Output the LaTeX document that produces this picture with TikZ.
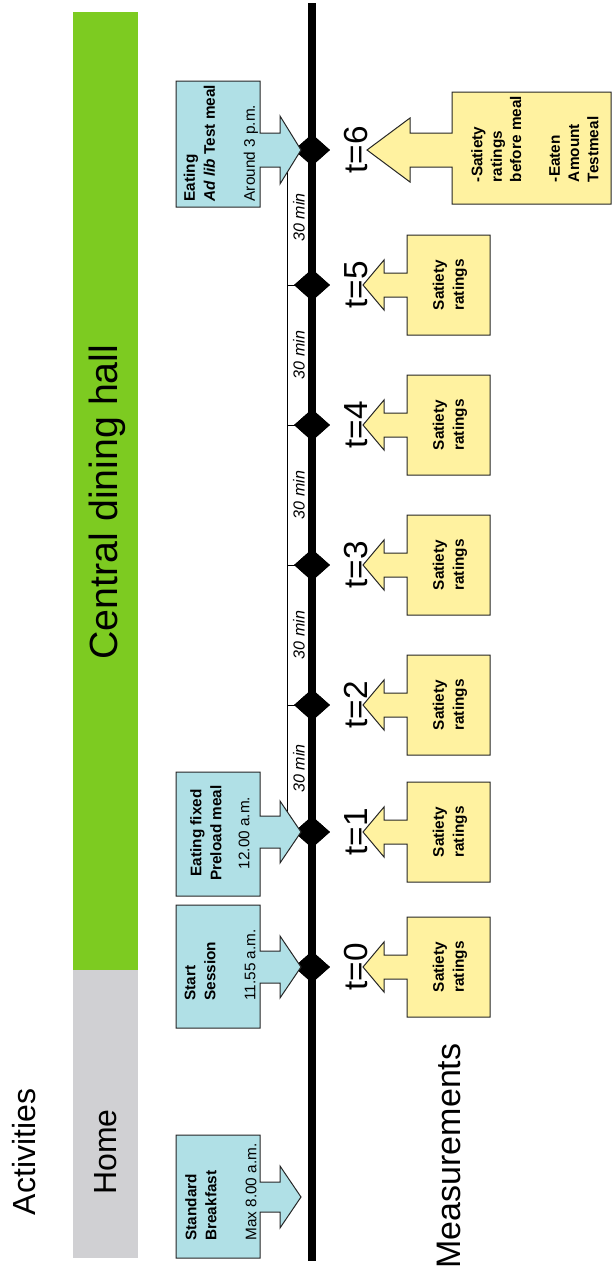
\documentclass[tikz,border=0pt]{standalone}
\usepackage{fontspec}
\setmainfont{Liberation Sans}
\usetikzlibrary{shapes.geometric,calc}
\definecolor{vert}{HTML}{7DCB21}
\definecolor{gris}{HTML}{D0D0D3}
\definecolor{ciel}{HTML}{B0E0E6}
\definecolor{jaune}{HTML}{FFF2A0}

\begin{document}
\begin{tikzpicture}[x=0.75pt,y=-0.75pt,
  bluebox/.style={draw=black!85,fill=ciel,line width=0.75pt},
  yellowbox/.style={draw=black!85,fill=jaune,line width=0.75pt},
  small/.style={rotate=90,inner sep=0pt,font=\fontsize{11.5}{15}\selectfont},
  big/.style={rotate=90,inner sep=0pt,font=\fontsize{24}{28}\selectfont},
  point/.style={diamond,fill=black,inner sep=0pt,minimum width=27pt,minimum height=24pt}]
  \useasboundingbox (0,0) rectangle (612,1275);

  % bars
  \fill[vert] (73,12) rectangle (138,970);
  \fill[gris] (73,970) rectangle (138,1258);
  \node[big,font=\fontsize{29.5}{33}\selectfont] (hall) at (107,502) {Central dining hall};
  \node[big] (home) at (106,1152) {Home};
  \node[big] (act) at (24,1152) {Activities};
  \node[big,font=\fontsize{25.5}{28}\selectfont] (meas) at (449,1156) {Measurements};

  % timeline
  \coordinate (top) at (312,3);
  \coordinate (bottom) at (312,1261);
  \node[point] (d0) at (312,967) {};
  \node[point] (d1) at (312,832) {};
  \node[point] (d2) at (312,705) {};
  \node[point] (d3) at (312,565) {};
  \node[point] (d4) at (312,425) {};
  \node[point] (d5) at (312,285) {};
  \node[point] (d6) at (312,150) {};

  \foreach \a/\b in {1/2,2/3,3/4,4/5,5/6} {
    \draw[line width=0.6pt] (d\a.center) -- ($(d\a.center)+(-25,0)$) |- (d\b.center);
    \node[small,font=\fontsize{12}{14}\selectfont\itshape] at ($(d\a)!0.5!(d\b)+(-13,0)$) {30 min};
  }
  \draw[line width=6pt] (top) -- (bottom);
  \foreach \i in {0,...,6} {
    \node[point] at (d\i) {};
    \node[big,font=\fontsize{25}{28}\selectfont] (t\i) at ($(d\i)+(44,0)$) {t=\i};
  }

  % activities
  \draw[bluebox] (176,1135) -- (260,1135) -- (260,1182) -- (280,1182) -- (280,1166)
    -- (301,1197) -- (280,1228) -- (280,1212) -- (260,1212) -- (260,1258) -- (176,1258) -- cycle;
  \node[small,align=left] (breakfast) at (221,1192)
    {\textbf{Standard}\\\textbf{Breakfast}\\[\baselineskip]Max 8.00 a.m.};

  \draw[bluebox] (176,905) -- (260,905) -- (260,951) -- (280,951) -- (280,936)
    -- (301,967) -- (280,998) -- (280,983) -- (260,983) -- (260,1028) -- (176,1028) -- cycle;
  \node[small,align=left] (start) at (220,965)
    {\textbf{Start}\\\textbf{Session}\\[\baselineskip]11.55 a.m.};

  \draw[bluebox] (176,772) -- (260,772) -- (260,816) -- (280,816) -- (280,801)
    -- (301,832) -- (280,863) -- (280,848) -- (260,848) -- (260,896) -- (176,896) -- cycle;
  \node[small,align=center] (preload) at (220,833)
    {\textbf{Eating fixed}\\\textbf{Preload meal}\\[6pt]12.00 a.m.};

  \draw[bluebox] (176,81) -- (260,81) -- (260,133) -- (280,133) -- (280,116)
    -- (301,150) -- (280,184) -- (280,167) -- (260,167) -- (260,207) -- (176,207) -- cycle;
  \node[small,align=left] (testmeal) at (221,143)
    {\textbf{Eating}\\\textbf{\textit{Ad lib} Test meal}\\[\baselineskip]Around 3 p.m.};

  % measurements
  \foreach \i in {0,...,5} {
    \draw[yellowbox] ($(d\i)+(95,-50)$) -- ++(83,0) -- ++(0,100) -- ++(-83,0) -- ++(0,-38)
      -- ++(-23,0) -- ++(0,13) -- ++(-21,-25) -- ++(21,-25) -- ++(0,13) -- ++(23,0) -- cycle;
    \node[small,align=center,font=\fontsize{11.5}{15}\selectfont\bfseries] (m\i) at ($(d\i)+(138,0)$) {Satiety\\ratings};
  }
  \draw[yellowbox] (452,92) -- (611,92) -- (611,204) -- (452,204) -- ($(d6)+(140,17)$) -- ++(-42,0)
    -- ++(0,15) -- ++(-43,-32) -- ++(43,-32) -- ++(0,15) -- ++(42,0) -- cycle;
  \node[small,align=left,font=\fontsize{11.5}{14.5}\selectfont\bfseries] (m6) at (535,139)
    {-Satiety\\ratings\\before meal\\[\baselineskip]-Eaten\\Amount\\Testmeal};
\end{tikzpicture}
\end{document}
